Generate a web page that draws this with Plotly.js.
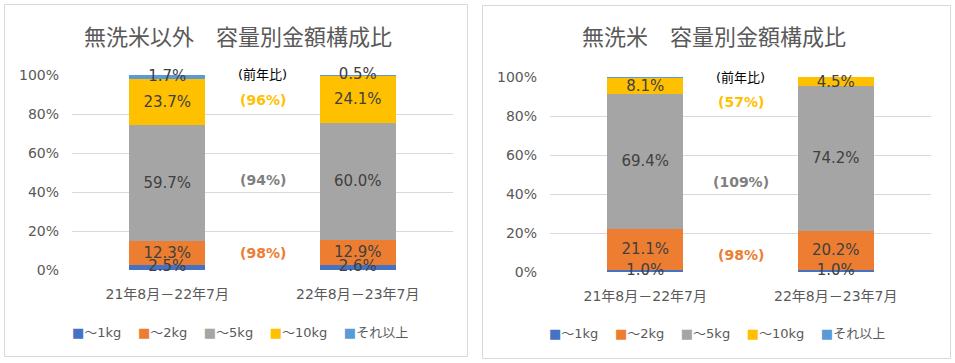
<!DOCTYPE html>
<html>
<head>
<meta charset="utf-8">
<script src="https://cdn.plot.ly/plotly-3.0.1.min.js"></script>
<style>html,body{margin:0;padding:0;background:#fff;}#chart{width:955px;height:363px;}</style>
</head>
<body>
<div id="chart"></div>
<script>
// ---- data ----
const categories = ['21年8月－22年7月', '22年8月－23年7月'];
const seriesNames = ['～1kg', '～2kg', '～5kg', '～10kg', 'それ以上'];
const seriesColors = ['#4472C4', '#ED7D31', '#A5A5A5', '#FFC000', '#5B9BD5'];
const yTickVals = [0, 20, 40, 60, 80, 100];
const yTickText = ['0%', '20%', '40%', '60%', '80%', '100%'];

// 無洗米以外
const left1kg  = [2.5, 2.6];
const left2kg  = [12.3, 12.9];
const left5kg  = [59.7, 60.0];
const left10kg = [23.7, 24.1];
const leftOver = [1.7, 0.5];
const leftYoY  = ['(98%)', '(94%)', '(96%)'];   // ～2kg, ～5kg, ～10kg

// 無洗米
const right1kg  = [1.0, 1.0];
const right2kg  = [21.1, 20.2];
const right5kg  = [69.4, 74.2];
const right10kg = [8.1, 4.5];
const rightOver = [0.4, 0.1];
const rightYoY  = ['(98%)', '(109%)', '(57%)'];

const titles = ['無洗米以外　容量別金額構成比', '無洗米　容量別金額構成比'];
const yoyHeader = '(前年比)';

// ---- styling ----
const FONT = "'DejaVu Sans', 'Noto Sans CJK JP', sans-serif";
const GRAY = '#595959';
const LABEL_FONT = {family: FONT, size: 15, color: '#404040'};

const leftSeries = [left1kg, left2kg, left5kg, left10kg, leftOver];
const rightSeries = [right1kg, right2kg, right5kg, right10kg, rightOver];

const traces = [];
// labelMode per series: 'bar' = bar inside text, 'mid' = text trace at segment middle (drawn on top), 'none'
function addPanel(series, xa, ya, labelMode) {
  series.forEach((vals, i) => {
    const useBar = labelMode[i] === 'bar';
    traces.push({
      type: 'bar',
      x: categories,
      y: vals,
      name: seriesNames[i],
      xaxis: xa, yaxis: ya,
      showlegend: false,
      marker: {color: seriesColors[i], line: {width: 0}},
      width: 0.4,
      text: useBar ? vals.map(v => v.toFixed(1) + '%') : null,
      textposition: useBar ? 'inside' : 'none',
      insidetextanchor: 'middle',
      constraintext: 'none',
      cliponaxis: false,
      textfont: LABEL_FONT,
      hoverinfo: 'name+y'
    });
  });
  series.forEach((vals, i) => {
    if (labelMode[i] !== 'mid') return;
    const mids = vals.map((v, k) => {
      let base = 0;
      for (let j = 0; j < i; j++) base += series[j][k];
      return base + v / 2;
    });
    traces.push({
      type: 'scatter', mode: 'text', x: categories, y: mids,
      xaxis: xa, yaxis: ya, showlegend: false, cliponaxis: false,
      text: vals.map(v => v.toFixed(1) + '%'), textposition: 'middle center',
      textfont: LABEL_FONT, hoverinfo: 'skip'
    });
  });
}
addPanel(leftSeries, 'x', 'y', ['mid', 'bar', 'bar', 'bar', 'mid']);
addPanel(rightSeries, 'x2', 'y2', ['mid', 'bar', 'bar', 'bar', 'none']);

const H = 363, W = 955;
const py = p => (H - p) / H;
const px = p => p / W;

function yAxis(dom, anchor) {
  return {
    domain: dom, anchor: anchor, range: [0, 100], fixedrange: true,
    tickmode: 'array', tickvals: yTickVals, ticktext: yTickText,
    showgrid: true, gridcolor: '#D9D9D9', gridwidth: 1,
    zeroline: false, showline: false, ticks: '',
    ticklabelstandoff: 12,
    tickfont: {family: FONT, size: 14, color: GRAY}
  };
}
function xAxis(dom, anchor) {
  return {
    domain: dom, anchor: anchor, type: 'category', fixedrange: true,
    showgrid: false, zeroline: false, showline: false, ticks: '',
    ticklabelstandoff: 14,
    tickfont: {family: FONT, size: 14, color: GRAY}
  };
}

function yoyAnnots(xref, yref, labels) {
  const yoyColors = ['#ED7D31', '#7F7F7F', '#FFC000'];
  const yPos = [8.7, 46, 87];
  const a = [{
    xref: xref + ' domain', yref: yref, x: 0.5, y: 100, text: yoyHeader,
    xanchor: 'center', showarrow: false, font: {family: FONT, size: 13, color: '#000'}
  }];
  labels.forEach((t, i) => a.push({
    xref: xref + ' domain', yref: yref, x: 0.5, y: yPos[i], text: '<b>' + t + '</b>',
    xanchor: 'center', showarrow: false, font: {family: FONT, size: 14, color: yoyColors[i]}
  }));
  return a;
}

// legend drawn as text: coloured square + series name
const legendText = seriesNames.map((n, i) =>
  '<span style="color:' + seriesColors[i] + '">■</span>' + n).join('\u00a0\u00a0\u00a0\u00a0');

const layout = {
  width: W, height: H,
  margin: {l: 0, r: 0, t: 0, b: 0},
  paper_bgcolor: '#fff', plot_bgcolor: 'rgba(0,0,0,0)',
  barmode: 'stack',
  font: {family: FONT, color: GRAY},
  showlegend: false,
  xaxis: xAxis([px(72), px(453)], 'y'),
  yaxis: yAxis([py(270), py(75)], 'x'),
  xaxis2: xAxis([px(550), px(931)], 'y2'),
  yaxis2: yAxis([py(272), py(77)], 'x2'),
  shapes: [
    {type: 'rect', xref: 'paper', yref: 'paper', x0: px(4.5), x1: px(467.5), y0: py(356.5), y1: py(4.5),
     line: {color: '#D9D9D9', width: 1}},
    {type: 'rect', xref: 'paper', yref: 'paper', x0: px(482.5), x1: px(950.5), y0: py(358.5), y1: py(5.5),
     line: {color: '#D9D9D9', width: 1}}
  ],
  annotations: [
    {xref: 'paper', yref: 'paper', x: px(237.5), y: py(37), text: titles[0], showarrow: false,
     xanchor: 'center', yanchor: 'middle', font: {family: FONT, size: 22, color: GRAY}},
    {xref: 'paper', yref: 'paper', x: px(714), y: py(38), text: titles[1], showarrow: false,
     xanchor: 'center', yanchor: 'middle', font: {family: FONT, size: 22, color: GRAY}},
    {xref: 'paper', yref: 'paper', x: px(240), y: py(332), text: legendText, showarrow: false,
     xanchor: 'center', yanchor: 'middle', font: {family: FONT, size: 13, color: GRAY}},
    {xref: 'paper', yref: 'paper', x: px(717), y: py(333), text: legendText, showarrow: false,
     xanchor: 'center', yanchor: 'middle', font: {family: FONT, size: 13, color: GRAY}}
  ].concat(yoyAnnots('x', 'y', leftYoY)).concat(yoyAnnots('x2', 'y2', rightYoY))
};

Plotly.newPlot('chart', traces, layout, {displayModeBar: false, staticPlot: true});
</script>
</body>
</html>
